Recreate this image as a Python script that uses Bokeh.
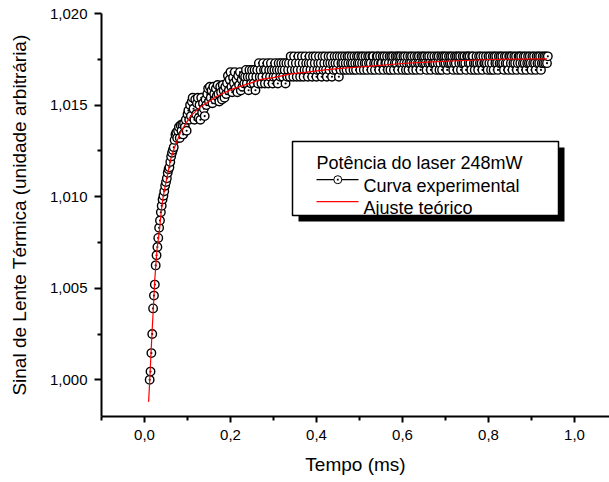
from bokeh.plotting import figure
from bokeh.models import Range1d, FixedTicker, BoxAnnotation, Label
from bokeh.embed import file_html
from bokeh.resources import INLINE

# ---------------- data ----------------
tempo = [
    0.012, 0.014, 0.016, 0.018, 0.020, 0.022, 0.024, 0.026, 0.028, 0.030,
    0.032, 0.034, 0.036, 0.038, 0.040, 0.042, 0.044, 0.046, 0.048, 0.050,
    0.052, 0.054, 0.056, 0.058, 0.060, 0.062, 0.064, 0.066, 0.068, 0.070,
    0.072, 0.074, 0.076, 0.078, 0.080, 0.082, 0.084, 0.086, 0.088, 0.090,
    0.092, 0.094, 0.096, 0.098, 0.100, 0.102, 0.104, 0.106, 0.108, 0.110,
    0.112, 0.114, 0.116, 0.118, 0.120, 0.122, 0.124, 0.126, 0.128, 0.130,
    0.132, 0.134, 0.136, 0.138, 0.140, 0.142, 0.144, 0.146, 0.148, 0.150,
    0.152, 0.154, 0.156, 0.158, 0.160, 0.162, 0.164, 0.166, 0.168, 0.170,
    0.172, 0.174, 0.176, 0.178, 0.180, 0.182, 0.184, 0.186, 0.188, 0.190,
    0.192, 0.194, 0.196, 0.198, 0.200, 0.202, 0.204, 0.206, 0.208, 0.210,
    0.212, 0.214, 0.216, 0.218, 0.220, 0.222, 0.224, 0.226, 0.228, 0.230,
    0.232, 0.234, 0.236, 0.238, 0.240, 0.242, 0.244, 0.246, 0.248, 0.250,
    0.252, 0.254, 0.256, 0.258, 0.260, 0.262, 0.264, 0.266, 0.268, 0.270,
    0.272, 0.274, 0.276, 0.278, 0.280, 0.282, 0.284, 0.286, 0.288, 0.290,
    0.292, 0.294, 0.296, 0.298, 0.300, 0.302, 0.304, 0.306, 0.308, 0.310,
    0.312, 0.314, 0.316, 0.318, 0.320, 0.322, 0.324, 0.326, 0.328, 0.330,
    0.332, 0.334, 0.336, 0.338, 0.340, 0.342, 0.344, 0.346, 0.348, 0.350,
    0.352, 0.354, 0.356, 0.358, 0.360, 0.362, 0.364, 0.366, 0.368, 0.370,
    0.372, 0.374, 0.376, 0.378, 0.380, 0.382, 0.384, 0.386, 0.388, 0.390,
    0.392, 0.394, 0.396, 0.398, 0.400, 0.402, 0.404, 0.406, 0.408, 0.410,
    0.412, 0.414, 0.416, 0.418, 0.420, 0.422, 0.424, 0.426, 0.428, 0.430,
    0.432, 0.434, 0.436, 0.438, 0.440, 0.442, 0.444, 0.446, 0.448, 0.450,
    0.452, 0.454, 0.456, 0.458, 0.460, 0.462, 0.464, 0.466, 0.468, 0.470,
    0.472, 0.474, 0.476, 0.478, 0.480, 0.482, 0.484, 0.486, 0.488, 0.490,
    0.492, 0.494, 0.496, 0.498, 0.500, 0.502, 0.504, 0.506, 0.508, 0.510,
    0.512, 0.514, 0.516, 0.518, 0.520, 0.522, 0.524, 0.526, 0.528, 0.530,
    0.532, 0.534, 0.536, 0.538, 0.540, 0.542, 0.544, 0.546, 0.548, 0.550,
    0.552, 0.554, 0.556, 0.558, 0.560, 0.562, 0.564, 0.566, 0.568, 0.570,
    0.572, 0.574, 0.576, 0.578, 0.580, 0.582, 0.584, 0.586, 0.588, 0.590,
    0.592, 0.594, 0.596, 0.598, 0.600, 0.602, 0.604, 0.606, 0.608, 0.610,
    0.612, 0.614, 0.616, 0.618, 0.620, 0.622, 0.624, 0.626, 0.628, 0.630,
    0.632, 0.634, 0.636, 0.638, 0.640, 0.642, 0.644, 0.646, 0.648, 0.650,
    0.652, 0.654, 0.656, 0.658, 0.660, 0.662, 0.664, 0.666, 0.668, 0.670,
    0.672, 0.674, 0.676, 0.678, 0.680, 0.682, 0.684, 0.686, 0.688, 0.690,
    0.692, 0.694, 0.696, 0.698, 0.700, 0.702, 0.704, 0.706, 0.708, 0.710,
    0.712, 0.714, 0.716, 0.718, 0.720, 0.722, 0.724, 0.726, 0.728, 0.730,
    0.732, 0.734, 0.736, 0.738, 0.740, 0.742, 0.744, 0.746, 0.748, 0.750,
    0.752, 0.754, 0.756, 0.758, 0.760, 0.762, 0.764, 0.766, 0.768, 0.770,
    0.772, 0.774, 0.776, 0.778, 0.780, 0.782, 0.784, 0.786, 0.788, 0.790,
    0.792, 0.794, 0.796, 0.798, 0.800, 0.802, 0.804, 0.806, 0.808, 0.810,
    0.812, 0.814, 0.816, 0.818, 0.820, 0.822, 0.824, 0.826, 0.828, 0.830,
    0.832, 0.834, 0.836, 0.838, 0.840, 0.842, 0.844, 0.846, 0.848, 0.850,
    0.852, 0.854, 0.856, 0.858, 0.860, 0.862, 0.864, 0.866, 0.868, 0.870,
    0.872, 0.874, 0.876, 0.878, 0.880, 0.882, 0.884, 0.886, 0.888, 0.890,
    0.892, 0.894, 0.896, 0.898, 0.900, 0.902, 0.904, 0.906, 0.908, 0.910,
    0.912, 0.914, 0.916, 0.918, 0.920, 0.922, 0.924, 0.926, 0.928, 0.930,
    0.932, 0.934, 0.936, 0.938,
]

sinal = [
    1.00000, 1.00045, 1.00146, 1.00250, 1.00390, 1.00460, 1.00520, 1.00625, 1.00680, 1.00725,
    1.00775, 1.00830, 1.00870, 1.00915, 1.00950, 1.00985, 1.01005, 1.01030, 1.01060, 1.01080,
    1.01100, 1.01130, 1.01150, 1.01160, 1.01190, 1.01220, 1.01240, 1.01255, 1.01270, 1.01310,
    1.01340, 1.01350, 1.01320, 1.01360, 1.01380, 1.01320, 1.01390, 1.01360, 1.01395, 1.01340,
    1.01400, 1.01380, 1.01420, 1.01360, 1.01450, 1.01470, 1.01420, 1.01500, 1.01440, 1.01520,
    1.01540, 1.01480, 1.01420, 1.01530, 1.01450, 1.01510, 1.01540, 1.01430, 1.01500, 1.01420,
    1.01540, 1.01460, 1.01510, 1.01480, 1.01440, 1.01530, 1.01500, 1.01560, 1.01590, 1.01520,
    1.01600, 1.01540, 1.01580, 1.01510, 1.01600, 1.01560, 1.01530, 1.01590, 1.01550, 1.01610,
    1.01560, 1.01520, 1.01600, 1.01570, 1.01530, 1.01610, 1.01580, 1.01540, 1.01600, 1.01560,
    1.01620, 1.01660, 1.01580, 1.01640, 1.01680, 1.01600, 1.01570, 1.01650, 1.01620, 1.01680,
    1.01590, 1.01640, 1.01570, 1.01660, 1.01610, 1.01680, 1.01580, 1.01640, 1.01600, 1.01660,
    1.01618, 1.01655, 1.01692, 1.01618, 1.01655, 1.01581, 1.01692, 1.01655, 1.01618, 1.01692,
    1.01655, 1.01618, 1.01692, 1.01581, 1.01655, 1.01692, 1.01618, 1.01729, 1.01655, 1.01692,
    1.01618, 1.01655, 1.01729, 1.01692, 1.01618, 1.01692, 1.01655, 1.01729, 1.01618, 1.01692,
    1.01655, 1.01729, 1.01692, 1.01618, 1.01655, 1.01692, 1.01729, 1.01655, 1.01692, 1.01618,
    1.01729, 1.01692, 1.01655, 1.01729, 1.01692, 1.01655, 1.01729, 1.01692, 1.01618, 1.01729,
    1.01655, 1.01692, 1.01729, 1.01655, 1.01766, 1.01692, 1.01729, 1.01655, 1.01766, 1.01692,
    1.01729, 1.01655, 1.01692, 1.01766, 1.01729, 1.01655, 1.01692, 1.01766, 1.01729, 1.01655,
    1.01692, 1.01766, 1.01729, 1.01692, 1.01655, 1.01729, 1.01766, 1.01692, 1.01729, 1.01655,
    1.01766, 1.01692, 1.01729, 1.01766, 1.01655, 1.01692, 1.01729, 1.01766, 1.01692, 1.01729,
    1.01655, 1.01766, 1.01692, 1.01729, 1.01766, 1.01692, 1.01655, 1.01729, 1.01766, 1.01692,
    1.01729, 1.01766, 1.01655, 1.01729, 1.01692, 1.01766, 1.01729, 1.01692, 1.01766, 1.01729,
    1.01655, 1.01766, 1.01692, 1.01729, 1.01766, 1.01729, 1.01692, 1.01766, 1.01729, 1.01692,
    1.01766, 1.01729, 1.01766, 1.01692, 1.01729, 1.01766, 1.01729, 1.01692, 1.01766, 1.01729,
    1.01692, 1.01766, 1.01729, 1.01766, 1.01729, 1.01692, 1.01766, 1.01729, 1.01766, 1.01692,
    1.01729, 1.01766, 1.01729, 1.01692, 1.01766, 1.01729, 1.01766, 1.01729, 1.01692, 1.01766,
    1.01766, 1.01729, 1.01692, 1.01729, 1.01766, 1.01766, 1.01729, 1.01692, 1.01766, 1.01729,
    1.01729, 1.01766, 1.01692, 1.01766, 1.01729, 1.01729, 1.01766, 1.01692, 1.01729, 1.01766,
    1.01692, 1.01766, 1.01729, 1.01766, 1.01692, 1.01729, 1.01766, 1.01729, 1.01766, 1.01692,
    1.01766, 1.01729, 1.01766, 1.01729, 1.01692, 1.01766, 1.01729, 1.01766, 1.01692, 1.01729,
    1.01766, 1.01692, 1.01729, 1.01766, 1.01729, 1.01766, 1.01692, 1.01729, 1.01766, 1.01729,
    1.01692, 1.01766, 1.01729, 1.01766, 1.01729, 1.01692, 1.01766, 1.01729, 1.01766, 1.01729,
    1.01766, 1.01729, 1.01692, 1.01766, 1.01729, 1.01766, 1.01729, 1.01692, 1.01766, 1.01729,
    1.01729, 1.01766, 1.01729, 1.01692, 1.01766, 1.01729, 1.01766, 1.01692, 1.01729, 1.01766,
    1.01692, 1.01766, 1.01729, 1.01766, 1.01729, 1.01766, 1.01692, 1.01729, 1.01766, 1.01729,
    1.01766, 1.01729, 1.01766, 1.01692, 1.01729, 1.01766, 1.01729, 1.01766, 1.01692, 1.01766,
    1.01729, 1.01766, 1.01692, 1.01729, 1.01766, 1.01729, 1.01766, 1.01729, 1.01692, 1.01766,
    1.01766, 1.01729, 1.01766, 1.01729, 1.01692, 1.01766, 1.01766, 1.01729, 1.01692, 1.01729,
    1.01766, 1.01729, 1.01692, 1.01766, 1.01729, 1.01766, 1.01729, 1.01692, 1.01766, 1.01729,
    1.01729, 1.01766, 1.01729, 1.01692, 1.01766, 1.01729, 1.01766, 1.01692, 1.01729, 1.01766,
    1.01692, 1.01766, 1.01729, 1.01766, 1.01729, 1.01692, 1.01766, 1.01729, 1.01766, 1.01729,
    1.01766, 1.01729, 1.01692, 1.01766, 1.01729, 1.01766, 1.01729, 1.01692, 1.01766, 1.01766,
    1.01729, 1.01766, 1.01692, 1.01729, 1.01766, 1.01729, 1.01766, 1.01692, 1.01729, 1.01766,
    1.01766, 1.01729, 1.01766, 1.01692, 1.01729, 1.01766, 1.01729, 1.01766, 1.01692, 1.01729,
    1.01766, 1.01729, 1.01766, 1.01729, 1.01692, 1.01766, 1.01729, 1.01766, 1.01729, 1.01692,
    1.01766, 1.01729, 1.01766, 1.01729, 1.01766, 1.01692, 1.01729, 1.01766, 1.01729, 1.01766,
    1.01729, 1.01766, 1.01729, 1.01766,
]

ajuste_tempo = [0.0095, 0.0123, 0.0150, 0.0178, 0.0210, 0.0240, 0.0290, 0.0349, 0.0390,
                0.0435, 0.0500, 0.0605, 0.0700, 0.0837, 0.0950, 0.1070, 0.1300, 0.1500,
                0.1690, 0.2070, 0.2465, 0.2700, 0.3000, 0.3400, 0.3780, 0.4200, 0.4560,
                0.5000, 0.5260, 0.6000, 0.6570, 0.7300, 0.8050, 0.8700, 0.9360]
ajuste_sinal = [0.99880, 1.00000, 1.00140, 1.00270, 1.00410, 1.00550, 1.00710, 1.00820, 1.00920,
                1.01000, 1.01080, 1.01200, 1.01270, 1.01350, 1.01395, 1.01440, 1.01490, 1.01520,
                1.01550, 1.01590, 1.01620, 1.01640, 1.01650, 1.01670, 1.01680, 1.01692, 1.01700,
                1.01708, 1.01713, 1.01727, 1.01735, 1.01742, 1.01749, 1.01751, 1.01752]

x_ticks = [0.0, 0.2, 0.4, 0.6, 0.8, 1.0]
x_tick_labels = ["0,0", "0,2", "0,4", "0,6", "0,8", "1,0"]
x_minor = [-0.1, 0.1, 0.3, 0.5, 0.7, 0.9]
y_ticks = [1.000, 1.005, 1.010, 1.015, 1.020]
y_tick_labels = ["1,000", "1,005", "1,010", "1,015", "1,020"]
y_minor = [1.0025, 1.0075, 1.0125, 1.0175]

titulo_legenda = "Potência do laser 248mW"
rotulo_exp = "Curva experimental"
rotulo_ajuste = "Ajuste teórico"
x_titulo = "Tempo (ms)"
y_titulo = "Sinal de Lente Térmica (unidade arbitrária)"

# ---------------- layout ----------------
W, H = 609, 482
F_LEFT, F_RIGHT, F_TOP, F_BOTTOM = 101, 609, 13, 416
X0, X1 = -0.1, 1.0814
Y0, Y1 = 0.998, 1.020
FONT = "Liberation Sans"


def dx(px):
    return X0 + (px - F_LEFT) * (X1 - X0) / (F_RIGHT - F_LEFT)


def dy(py):
    return Y0 + (F_BOTTOM - py) * (Y1 - Y0) / (F_BOTTOM - F_TOP)


p = figure(width=W, height=H, output_backend="svg", toolbar_location=None,
           x_range=Range1d(X0, X1), y_range=Range1d(Y0, Y1),
           min_border_left=F_LEFT, min_border_right=W - F_RIGHT,
           min_border_top=F_TOP, min_border_bottom=H - F_BOTTOM)
p.outline_line_color = None
p.grid.visible = False
p.background_fill_color = "white"
p.border_fill_color = "white"

p.scatter(tempo, sinal, marker="circle_dot", size=8.5, line_color="black",
          fill_color="white", line_width=1.4)
p.line(ajuste_tempo, ajuste_sinal, line_color="red", line_width=1.2)

p.xaxis.ticker = FixedTicker(ticks=x_ticks, minor_ticks=x_minor)
p.xaxis.major_label_overrides = dict(zip(x_ticks, x_tick_labels))
p.yaxis.ticker = FixedTicker(ticks=y_ticks, minor_ticks=y_minor)
p.yaxis.major_label_overrides = dict(zip(y_ticks, y_tick_labels))
p.xaxis.axis_label = x_titulo
p.yaxis.axis_label = y_titulo

for ax in (p.xaxis[0], p.yaxis[0]):
    ax.axis_line_width = 2
    ax.axis_line_color = "black"
    ax.major_tick_line_width = 2
    ax.major_tick_line_color = "black"
    ax.minor_tick_line_width = 2
    ax.minor_tick_line_color = "black"
    ax.major_tick_in = 0
    ax.minor_tick_in = 0
    ax.minor_tick_out = 4
    ax.major_label_text_font = FONT
    ax.major_label_text_font_size = "15px"
    ax.major_label_text_color = "black"
    ax.axis_label_text_font = FONT
    ax.axis_label_text_font_size = "19px"
    ax.axis_label_text_font_style = "normal"
    ax.axis_label_text_color = "black"

p.xaxis.major_tick_out = 6
p.yaxis.major_tick_out = 7
p.xaxis.major_label_standoff = 7
p.yaxis.major_label_standoff = 7
p.xaxis.axis_label_standoff = 11
p.yaxis.axis_label_standoff = 17

# ---------------- legend (boxed, with drop shadow) ----------------
p.add_layout(BoxAnnotation(left=dx(298), right=dx(564), top=dy(147), bottom=dy(221),
                           fill_color="black", fill_alpha=1, line_color=None))
p.add_layout(BoxAnnotation(left=dx(292), right=dx(558), top=dy(141), bottom=dy(215),
                           fill_color="white", fill_alpha=1, line_color="black",
                           line_width=1.5, line_alpha=1))
p.add_layout(BoxAnnotation(left=dx(316), right=dx(358), top=dy(178.5), bottom=dy(179.7),
                           fill_color="black", fill_alpha=1, line_color=None))
p.add_layout(BoxAnnotation(left=dx(333.3), right=dx(341.3), top=dy(175.2), bottom=dy(183.2),
                           fill_color="white", fill_alpha=1, line_color="black",
                           line_width=1, line_alpha=1, border_radius=4))
p.add_layout(BoxAnnotation(left=dx(336.4), right=dx(338.2), top=dy(178.3), bottom=dy(180.1),
                           fill_color="black", fill_alpha=1, line_color=None))
p.add_layout(BoxAnnotation(left=dx(316), right=dx(358), top=dy(200.5), bottom=dy(201.7),
                           fill_color="red", fill_alpha=1, line_color=None))

for txt, px, py in ((titulo_legenda, 316, 162), (rotulo_exp, 363, 185.5), (rotulo_ajuste, 363, 207)):
    p.add_layout(Label(x=dx(px), y=dy(py), text=txt, text_font=FONT, text_font_size="18px",
                       text_color="black", text_baseline="alphabetic", text_align="left"))

open("out.html", "w").write(file_html(p, INLINE))
